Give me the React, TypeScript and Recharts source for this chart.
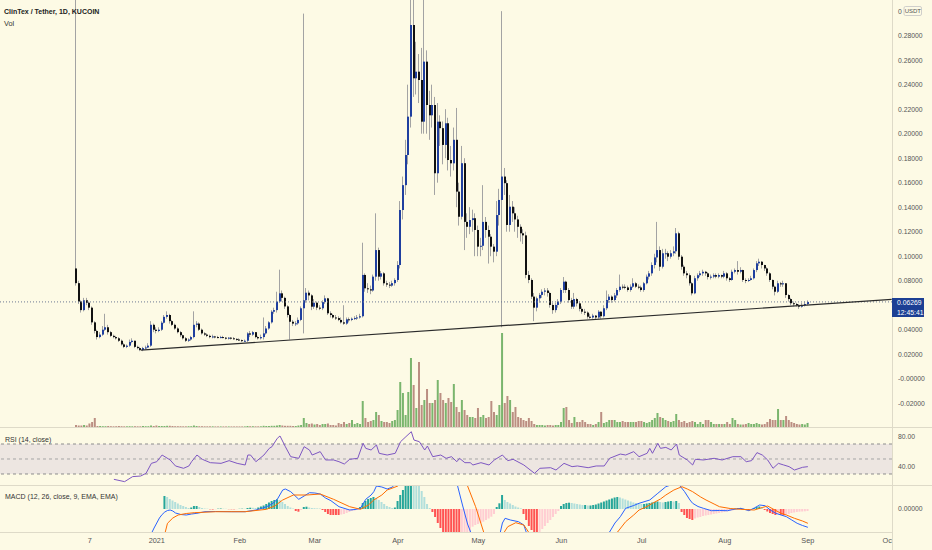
import React from 'react';
import { Bar, Cell, ComposedChart, Line, ReferenceArea, ReferenceLine, XAxis, YAxis } from 'recharts';

// days are counted from 1 Jan 2021, first candle is 2 Dec 2020
const FIRST_DAY = -30;
const FIRST_OPEN = 0.09;
const LAST_PRICE = 0.06269;

const CLOSE = [
  0.078, 0.063, 0.056, 0.064, 0.062, 0.058, 0.046, 0.039, 0.034, 0.036,
  0.04, 0.042, 0.038, 0.035, 0.034, 0.033, 0.031, 0.028, 0.026, 0.027,
  0.03, 0.031, 0.026, 0.025, 0.0235, 0.025, 0.0255, 0.027, 0.044, 0.04,
  0.039, 0.04, 0.0457, 0.0505, 0.052, 0.047, 0.044, 0.041, 0.038, 0.0355,
  0.033, 0.031, 0.032, 0.034, 0.044, 0.045, 0.04, 0.037, 0.036, 0.035,
  0.034, 0.0345, 0.034, 0.0335, 0.034, 0.0335, 0.033, 0.0335, 0.033, 0.0325,
  0.032, 0.0315, 0.031, 0.031, 0.037, 0.036, 0.038, 0.034, 0.033, 0.034,
  0.037, 0.041, 0.046, 0.0547, 0.056, 0.063, 0.0697, 0.066, 0.059, 0.052,
  0.0465, 0.045, 0.0452, 0.048, 0.0575, 0.064, 0.0702, 0.068, 0.0588, 0.062,
  0.058, 0.0575, 0.0625, 0.0656, 0.0534, 0.052, 0.05, 0.0495, 0.048, 0.046,
  0.045, 0.0485, 0.048, 0.049, 0.0495, 0.05, 0.051, 0.0847, 0.0738, 0.073,
  0.072, 0.0833, 0.105, 0.0833, 0.086, 0.0779, 0.0768, 0.076, 0.078, 0.0806,
  0.0928, 0.1377, 0.158, 0.1826, 0.2139, 0.2887, 0.2452, 0.2506, 0.2438, 0.2098,
  0.2588, 0.2234, 0.215, 0.2234, 0.1677, 0.2098, 0.2045, 0.1908, 0.2085, 0.1785,
  0.1758, 0.195, 0.1527, 0.1322, 0.1759, 0.128, 0.124, 0.1295, 0.131, 0.1214,
  0.1078, 0.1085, 0.128, 0.1214, 0.1159, 0.1078, 0.1037, 0.1336, 0.1459, 0.165,
  0.1596, 0.1255, 0.1404, 0.135, 0.13, 0.124, 0.1187, 0.117, 0.0847, 0.0806,
  0.067, 0.058, 0.0656, 0.0684, 0.071, 0.072, 0.07, 0.0602, 0.056, 0.0602,
  0.0629, 0.0724, 0.0792, 0.0724, 0.0642, 0.0588, 0.065, 0.0615, 0.057, 0.0547,
  0.054, 0.0506, 0.05, 0.0515, 0.05, 0.0547, 0.051, 0.0575, 0.0642, 0.067,
  0.0642, 0.068, 0.0724, 0.0751, 0.075, 0.0745, 0.0724, 0.0751, 0.0779, 0.0751,
  0.0745, 0.0724, 0.0779, 0.0833, 0.086, 0.0928, 0.099, 0.105, 0.0914, 0.1024,
  0.1024, 0.0996, 0.1024, 0.104, 0.1187, 0.0996, 0.0914, 0.086, 0.0845, 0.0779,
  0.0697, 0.082, 0.0845, 0.086, 0.0873, 0.086, 0.083, 0.0833, 0.0846, 0.0833,
  0.0846, 0.0833, 0.086, 0.082, 0.0806, 0.0873, 0.0887, 0.0873, 0.0887, 0.0806,
  0.08, 0.0806, 0.082, 0.0887, 0.0942, 0.0955, 0.0928, 0.09, 0.086, 0.0806,
  0.0751, 0.071, 0.0779, 0.077, 0.0779, 0.0683, 0.065, 0.0616, 0.061, 0.0602,
  0.0588, 0.06, 0.061, 0.06269,
];

const HIGH = [
  0.36, 0.08, 0.064, 0.066, 0.066, 0.063, 0.059, 0.047, 0.04, 0.038,
  0.043, 0.053, 0.044, 0.039, 0.036, 0.035, 0.034, 0.032, 0.029, 0.028,
  0.032, 0.033, 0.031, 0.027, 0.026, 0.026, 0.027, 0.029, 0.047, 0.045,
  0.042, 0.042, 0.047, 0.052, 0.055, 0.053, 0.048, 0.045, 0.042, 0.039,
  0.036, 0.034, 0.033, 0.035, 0.055, 0.047, 0.046, 0.041, 0.038, 0.037,
  0.036, 0.036, 0.035, 0.035, 0.035, 0.035, 0.034, 0.034, 0.034, 0.034,
  0.033, 0.033, 0.032, 0.032, 0.038, 0.039, 0.039, 0.038, 0.035, 0.036,
  0.05, 0.043, 0.047, 0.056, 0.058, 0.071, 0.089, 0.072, 0.067, 0.06,
  0.053, 0.048, 0.047, 0.05, 0.059, 0.298, 0.074, 0.072, 0.069, 0.065,
  0.063, 0.06, 0.064, 0.068, 0.066, 0.055, 0.053, 0.052, 0.051, 0.05,
  0.06, 0.05, 0.05, 0.05, 0.051, 0.052, 0.053, 0.111, 0.086, 0.078,
  0.076, 0.085, 0.135, 0.107, 0.088, 0.087, 0.08, 0.079, 0.08, 0.082,
  0.096, 0.145, 0.165, 0.195, 0.24, 0.34, 0.32, 0.275, 0.265, 0.27,
  0.33, 0.268, 0.235, 0.24, 0.23, 0.225, 0.215, 0.21, 0.22, 0.213,
  0.19, 0.205, 0.221, 0.16, 0.19, 0.18, 0.135, 0.14, 0.138, 0.135,
  0.125, 0.115, 0.158, 0.132, 0.125, 0.118, 0.11, 0.145, 0.155, 0.3,
  0.172, 0.162, 0.15, 0.145, 0.14, 0.133, 0.126, 0.122, 0.12, 0.088,
  0.082, 0.07, 0.067, 0.07, 0.073, 0.074, 0.074, 0.071, 0.062, 0.062,
  0.065, 0.074, 0.083, 0.08, 0.074, 0.066, 0.07, 0.066, 0.063, 0.059,
  0.057, 0.055, 0.053, 0.053, 0.052, 0.056, 0.055, 0.06, 0.072, 0.069,
  0.068, 0.07, 0.074, 0.085, 0.077, 0.077, 0.076, 0.077, 0.082, 0.079,
  0.077, 0.076, 0.079, 0.085, 0.088, 0.095, 0.102, 0.128, 0.108, 0.106,
  0.106, 0.104, 0.105, 0.108, 0.123, 0.12, 0.101, 0.093, 0.088, 0.086,
  0.079, 0.084, 0.086, 0.088, 0.089, 0.088, 0.087, 0.085, 0.086, 0.086,
  0.086, 0.085, 0.088, 0.087, 0.083, 0.089, 0.09, 0.096, 0.091, 0.089,
  0.082, 0.082, 0.084, 0.09, 0.096, 0.098, 0.096, 0.093, 0.091, 0.087,
  0.081, 0.076, 0.08, 0.079, 0.08, 0.078, 0.069, 0.066, 0.063, 0.062,
  0.061, 0.062, 0.063, 0.064,
];

const LOW = [
  0.076, 0.061, 0.054, 0.055, 0.06, 0.056, 0.044, 0.037, 0.032, 0.033,
  0.035, 0.039, 0.036, 0.034, 0.033, 0.032, 0.03, 0.027, 0.025, 0.025,
  0.026, 0.029, 0.025, 0.024, 0.0225, 0.0225, 0.024, 0.025, 0.026, 0.038,
  0.037, 0.038, 0.039, 0.045, 0.049, 0.045, 0.043, 0.04, 0.037, 0.034,
  0.032, 0.03, 0.03, 0.031, 0.033, 0.042, 0.039, 0.036, 0.035, 0.034,
  0.033, 0.033, 0.033, 0.033, 0.033, 0.033, 0.032, 0.032, 0.032, 0.032,
  0.031, 0.031, 0.03, 0.03, 0.03, 0.034, 0.035, 0.033, 0.032, 0.032,
  0.032, 0.036, 0.04, 0.045, 0.053, 0.054, 0.062, 0.063, 0.057, 0.05,
  0.032, 0.043, 0.043, 0.044, 0.047, 0.037, 0.062, 0.064, 0.056, 0.057,
  0.056, 0.056, 0.056, 0.061, 0.052, 0.05, 0.049, 0.048, 0.047, 0.045,
  0.044, 0.044, 0.046, 0.047, 0.048, 0.048, 0.049, 0.05, 0.071, 0.07,
  0.069, 0.071, 0.08, 0.08, 0.081, 0.076, 0.075, 0.074, 0.075, 0.076,
  0.079, 0.09, 0.13, 0.15, 0.175, 0.205, 0.23, 0.232, 0.225, 0.2,
  0.2, 0.2, 0.195, 0.205, 0.15, 0.16, 0.19, 0.175, 0.18, 0.17,
  0.165, 0.17, 0.14, 0.125, 0.13, 0.105, 0.115, 0.118, 0.12, 0.1,
  0.1, 0.1, 0.105, 0.115, 0.094, 0.1, 0.095, 0.1, 0.125, 0.042,
  0.15, 0.12, 0.12, 0.128, 0.12, 0.115, 0.112, 0.11, 0.082, 0.078,
  0.065, 0.047, 0.055, 0.062, 0.066, 0.068, 0.067, 0.058, 0.053, 0.054,
  0.058, 0.061, 0.07, 0.07, 0.062, 0.057, 0.057, 0.059, 0.055, 0.053,
  0.052, 0.049, 0.049, 0.049, 0.048, 0.049, 0.049, 0.05, 0.056, 0.062,
  0.062, 0.063, 0.066, 0.071, 0.073, 0.073, 0.071, 0.071, 0.074, 0.074,
  0.073, 0.071, 0.071, 0.077, 0.081, 0.084, 0.09, 0.095, 0.088, 0.09,
  0.098, 0.096, 0.098, 0.1, 0.102, 0.097, 0.089, 0.084, 0.082, 0.076,
  0.068, 0.069, 0.08, 0.083, 0.084, 0.084, 0.081, 0.081, 0.082, 0.082,
  0.082, 0.082, 0.082, 0.08, 0.079, 0.08, 0.086, 0.085, 0.086, 0.079,
  0.078, 0.079, 0.08, 0.081, 0.087, 0.092, 0.09, 0.088, 0.084, 0.079,
  0.073, 0.068, 0.07, 0.075, 0.075, 0.066, 0.063, 0.06, 0.059, 0.059,
  0.057, 0.058, 0.059, 0.06,
];

// volume, in units of 10k CLT
const VOLUME = [
  2, 1.5, 1.5, 2, 1.5, 3.5, 5, 9, 1, 1,
  0.8, 0.8, 1, 0.8, 0.7, 0.8, 1, 0.8, 0.7, 0.7,
  0.8, 0.7, 0.8, 0.7, 0.7, 1, 0.8, 0.8, 1.5, 1,
  1.5, 1, 1, 1, 1.2, 1.2, 1, 0.8, 0.8, 0.8,
  0.7, 0.7, 0.8, 0.8, 1.5, 1, 0.8, 0.8, 0.7, 0.7,
  0.7, 0.7, 0.6, 0.6, 0.6, 0.6, 0.6, 0.6, 0.6, 0.6,
  0.6, 0.6, 0.6, 0.6, 1, 0.8, 0.8, 0.7, 0.7, 0.7,
  1.2, 1, 1, 1.2, 1.2, 1.5, 2, 1.5, 1.2, 1.2,
  1.2, 1, 1, 1.5, 2, 9, 4, 3, 3.5, 2.5,
  3, 2, 3, 3, 3.5, 2, 2, 1.5, 4, 3,
  5, 3, 4, 7, 3, 4, 3, 26, 9, 5,
  6, 7, 15, 12, 6, 5, 5, 4, 6, 7,
  17, 45, 34, 12, 35, 69, 42, 19, 65, 22,
  27, 38, 24, 24, 27, 47, 34, 27, 24, 29,
  25, 43, 20, 15, 27, 17, 12, 10, 10, 9,
  19, 10, 12, 9, 10, 26, 15, 12, 22, 94,
  24, 31, 27, 15, 20, 10, 9, 7, 6, 9,
  6, 3, 2, 2, 2, 1.5, 2, 2, 1.5, 2,
  2, 5, 19, 20, 7, 4, 10, 5, 5, 7,
  5, 3, 3, 2, 3, 5, 15, 4, 5, 7,
  7, 7, 5, 5, 6, 5, 5, 5, 5, 5,
  6, 6, 5, 4, 5, 7, 9, 14, 10, 9,
  7, 6, 5, 6, 13, 7, 5, 6, 4, 5,
  6, 5, 3, 5, 3, 7, 7, 5, 3, 3,
  3, 3, 3, 5, 3, 9, 7, 3, 2.5, 2.5,
  3, 4, 3, 3, 4, 3, 2.5, 3, 5, 8,
  7, 7, 18, 7, 7, 11, 7, 5, 4, 3,
  2.5, 3, 2.5, 4,
];

// MACD histogram, one value per day from day 3 (in 1e-4 USDT)
const HIST_FIRST_DAY = 3;
const MACD_HIST = [
  13, 12, 10, 8.5, 7, 5.5, 4, 3, 2, 1,
  1.5, 3, 3, 2, 1, 0.5, 0.3, -0.3, -0.5, -0.3,
  0.3, 0.5, 0.3, 0.2, -0.2, -0.3, -0.3, -0.2, 0.2, 0.3,
  0.2, 1, 1.3, 1.2, 1, 1.5, 2.5, 3.5, 5, 6.5,
  8, 9, 9.7, 9, 7, 5, 3, 1.5, 0.5, -2,
  -2.7, -1, 2, 2.3, 1.5, 1, 0.8, 0.6, 0.5, -1,
  -3, -5, -6, -6, -6, -6, -5.5, -5, -4, -3,
  -2, -1.5, -0.5, 2, 6, 8, 10, 11, 12, 11,
  9, 7, 5, 3, 2, 1, 1.5, 8, 14, 19,
  23, 26, 30, 29, 28, 26, 18, 12, 5, 1,
  -3, -8, -14, -19, -24, -28, -30, -32, -33, -34,
  -34, -32, -30, -28, -26, -17.7, -16, -15, -14, -12.7,
  -11, -9.5, -7.7, -5, 2, 5.7, 14, 9, 7, 5.5,
  4, 2.5, 1.5, 0.7, -5, -11, -17, -21, -24, -26,
  -24, -20, -17, -14, -11, -8, -5, -2, 3, 5,
  6, 6.3, 6, 5.5, 5, 4.5, 4, 4, 3.5, 3.5,
  4, 4.5, 5.5, 6.5, 7.5, 8.5, 9.5, 10.5, 11.5, 12,
  11.5, 10.5, 9.5, 8.5, 7.5, 6.5, 6, 5.5, 5, 5,
  5.5, 6, 6.5, 7, 7.5, 7, 6.5, 7, 7.5, 8,
  7.5, 8, 6, -3, -6, -9, -10, -11, -9.5, -8.5,
  -8, -7, -6.5, -6, -5.5, -5, -4.5, -4, -3.5, -3,
  -2.5, -2, -1.5, 0.5, 1, 1, 0.5, -0.5, -1, -0.5,
  1, 2, 2.5, 1.5, -1, -2.5, -4, -5, -6, -5,
  -6, -6.5, -6, -5, -4, -3.5, -3, -2.7, -2.5, -2.3,
  -2,
];

// [day, value]
const MACD_LINE: [number, number][] = [
  [-5, -45], [-3, -30], [-1, -19], [0, -14], [1, -9], [2, -5.5], [3, -3], [4, -1.5], [5, -1], [6, -2],
  [7, -4], [9, -5.5], [11, -6], [13, -5], [15, -4.3], [18, -2.7], [22, -2.5], [28, -2.7], [33, -2.7], [37, -1],
  [39, 0.5], [41, 2.3], [43, 5], [45, 9.7], [47, 19], [48, 20], [50, 17.3], [53, 9.7], [55, 13], [57, 16.3],
  [59, 16], [61, 15], [63, 11], [65, 8.3], [68, 2.3], [72, -1], [74, -0.5], [76, 0.7], [78, 9.7], [80, 14],
  [81, 17.3], [82, 23], [84, 22], [86, 20], [88, 22], [90, 30], [95, 60], [100, 70], [105, 60], [110, 40],
  [112, 26], [114, 5], [116, -15], [117, -22], [118, -30], [122, -45], [126, -40], [128, -26], [129, -14], [130, -9.3],
  [132, -11], [135, -12.7], [137, -16], [138, -24], [142, -40], [150, -40], [160, -35], [166, -30], [169, -23], [171, -14],
  [173, -7.7], [175, 0.7], [178, 3.5], [180, 5.7], [184, 9], [187, 15.7], [190, 22.3], [193, 25], [195, 24], [197, 17.3],
  [199, 9], [200, 5.7], [202, 2.5], [204, 0.7], [207, -1.7], [210, -1.5], [213, -1.7], [215, -0.5], [218, 0.7], [221, -1.7],
  [223, 1], [225, 4], [227, 3.3], [229, -1], [231, -4.3], [233, -6], [235, -7.7], [237, -11], [239, -14.3], [241, -16.5],
  [243, -18.3],
];

const SIGNAL_LINE: [number, number][] = [
  [3, -25], [4, -14.3], [6, -9], [8, -6], [11, -4.5], [14, -3.7], [22, -2.7], [33, -2.7], [41, -0.3], [44, 3],
  [47, 9], [51, 14], [56, 14], [61, 15], [66, 9.7], [72, 2.3], [76, -0.3], [79, 4], [81, 9], [84, 14],
  [86, 19], [90, 23], [95, 35], [100, 50], [105, 55], [110, 52], [114, 40], [116, 23], [119, 2.3], [122, -23],
  [126, -33], [129, -26], [131, -17.7], [134, -13.7], [137, -16], [139, -24], [145, -35], [155, -40], [165, -35], [170, -28],
  [172, -23], [175, -12.7], [178, -6], [180, -1], [183, 2.5], [185, 5.7], [188, 10], [190, 14], [193, 19], [196, 22.3],
  [198, 20], [200, 17.3], [203, 12], [205, 9], [208, 5], [210, 2.3], [214, 0.5], [218, -0.3], [223, -1], [226, 1.5],
  [228, 3], [230, 0], [233, -4.3], [235, -6], [238, -9.3], [241, -12], [243, -14.3],
];

const RSI: [number, number][] = [
  [-16, 22.9], [-12, 19.8], [-9, 26.5], [-6, 27.3], [-4, 30.9], [-2, 44.2], [0, 46.4], [2, 55.3], [5, 48.7], [7, 40.7],
  [10, 37.6], [12, 40.7], [13, 46.4], [15, 55.3], [17, 49.6], [20, 45.1], [24, 44.2], [27, 47.8], [30, 44.2], [33, 42],
  [34, 55.3], [35, 55.3], [37, 46.4], [40, 55.3], [42, 64.2], [43, 66.4], [45, 77.6], [46, 80.7], [48, 66.4], [50, 53.1],
  [53, 50.9], [55, 66.4], [57, 62], [58, 55.3], [61, 59.8], [63, 48.7], [66, 48.7], [68, 46.4], [70, 43.3], [72, 49.6],
  [75, 50.9], [77, 70.9], [78, 64.2], [80, 62], [82, 68.7], [83, 57.6], [86, 55.3], [89, 57.6], [91, 73.1], [93, 79.8],
  [95, 86.4], [96, 75.3], [98, 73.1], [100, 62], [101, 67.3], [103, 53.1], [106, 55.3], [108, 50.9], [110, 53.1], [112, 46.4],
  [113, 50.9], [115, 45.1], [117, 45.1], [118, 42], [121, 45.1], [124, 42], [126, 48.7], [129, 55.3], [131, 47.8], [133, 49.6],
  [137, 42], [141, 30.9], [143, 37.6], [147, 38.4], [149, 35.3], [152, 44.2], [155, 39.8], [157, 40.7], [161, 38.4], [164, 40.7],
  [167, 40.7], [169, 50.9], [173, 56.6], [175, 55.3], [178, 59.8], [180, 53.1], [183, 57.6], [184, 64.2], [185, 57.6], [187, 70.9],
  [188, 64.2], [190, 65.5], [192, 62], [194, 70], [195, 55.3], [198, 48.7], [200, 42], [201, 49.6], [204, 48.7], [208, 50.9],
  [211, 48.7], [215, 53.1], [218, 53.1], [220, 46.4], [222, 47.8], [224, 58.5], [226, 55.3], [228, 48.7], [230, 37.6], [232, 44.2],
  [234, 42], [236, 39.8], [238, 35.3], [241, 38.9], [243, 39.8],
];

// hand drawn support line
const TREND = [{ x: -6, y: 0.0233 }, { x: 274.3, y: 0.0648 }];

const MONTH_TICKS = [-25, 0, 31, 59, 90, 120, 151, 181, 212, 243, 273];
const MONTH_LABELS = ['7', '2021', 'Feb', 'Mar', 'Apr', 'May', 'Jun', 'Jul', 'Aug', 'Sep', 'Oct'];
// 0.06 sits under the last price label, so it is not listed
const PRICE_TICKS = [-0.02, 0, 0.02, 0.04, 0.08, 0.1, 0.12, 0.14, 0.16, 0.18, 0.2, 0.22, 0.24, 0.26, 0.28, 0.3];
const RSI_TICKS = [40, 80];

const X_DOMAIN: [number, number] = [-58.5, 274.4];
const BG = '#fdfae5';
const FONT = '"Liberation Sans", Arial, sans-serif';
const SEP = '#dedac8';

const candles = CLOSE.map((close, i) => {
  const open = i === 0 ? FIRST_OPEN : CLOSE[i - 1];
  const high = Math.max(HIGH[i], open, close);
  const low = Math.min(LOW[i], open, close);
  return { d: FIRST_DAY + i, open, close, high, low, range: [low, high], vol: VOLUME[i] };
});

const macdMap = new Map(MACD_LINE);
const signalMap = new Map(SIGNAL_LINE);
const macdRows = candles.map(({ d }) => {
  const h = d >= HIST_FIRST_DAY ? MACD_HIST[d - HIST_FIRST_DAY] : undefined;
  const prev = d - 1 >= HIST_FIRST_DAY ? MACD_HIST[d - 1 - HIST_FIRST_DAY] : h;
  return { d, hist: h, prev, macd: macdMap.get(d), signal: signalMap.get(d) };
});

const rsiRows = RSI.map(([d, rsi]) => ({ d, rsi }));

function histColor(h: number, prev: number) {
  if (h >= 0) return h >= prev ? '#26a69a' : '#b2dfdb';
  return h <= prev ? '#ff5252' : '#ffcdd2';
}

// the top label is mostly hidden by the currency badge, only its first digit shows
function priceLabel(v: number) {
  if (Math.abs(v) < 1e-9) return '-0.00000';
  if (v > 0.29) return '0';
  return v.toFixed(5);
}

function Candle(props: any) {
  const { x, y, width, height, payload } = props;
  if (!payload || !Number.isFinite(y) || !Number.isFinite(height)) return null;
  const { open, close, high, low } = payload;
  const k = height / (high - low);
  const at = (v: number) => y + (high - v) * k;
  const cx = Math.round(x + width / 2);
  const top = at(Math.max(open, close));
  const bottom = at(Math.min(open, close));
  const up = close >= open;
  return (
    <g>
      <rect x={cx - 1} y={y} width={1} height={Math.max(height, 1)} fill="#a3a3a3" />
      <rect x={cx - 1} y={top} width={2} height={Math.max(bottom - top, 1)} fill={up ? '#1f3f9f' : '#111111'} />
    </g>
  );
}

const tickStyle = { fontSize: 6.8, fill: '#555555', fontFamily: FONT };

export default function App() {
  return (
    <div style={{ position: 'absolute', left: 0, top: 0, width: 932, height: 550, background: BG, overflow: 'hidden', fontFamily: FONT }}>
      <div style={{ position: 'absolute', left: 0, top: 0 }}>
        <ComposedChart width={932} height={427} data={candles} margin={{ top: 0, right: 0, bottom: 0, left: 0 }}>
          <XAxis xAxisId="c" dataKey="d" type="number" domain={X_DOMAIN} allowDataOverflow hide />
          <XAxis xAxisId="v" dataKey="d" type="number" domain={X_DOMAIN} allowDataOverflow hide />
          <YAxis
            yAxisId="price"
            orientation="right"
            width={40}
            domain={[-0.0394, 0.3091]}
            ticks={PRICE_TICKS}
            allowDataOverflow
            axisLine={false}
            tickLine={false}
            tickSize={6}
            tickMargin={0}
            interval={0}
            tick={tickStyle}
            tickFormatter={priceLabel}
          />
          <YAxis yAxisId="vol" domain={[0, 427]} allowDataOverflow hide />
          <Bar xAxisId="v" yAxisId="vol" dataKey="vol" barSize={2} isAnimationActive={false}>
            {candles.map((c) => (
              <Cell key={c.d} fill={c.close >= c.open ? '#7ab56d' : '#bb8e82'} />
            ))}
          </Bar>
          <ReferenceLine xAxisId="c" yAxisId="price" y={LAST_PRICE} stroke="#6c7894" strokeDasharray="1 2" />
          <ReferenceLine xAxisId="c" yAxisId="price" segment={TREND} stroke="#2b2b2b" strokeWidth={1.2} ifOverflow="visible" />
          <Bar xAxisId="c" yAxisId="price" dataKey="range" barSize={2} shape={Candle} isAnimationActive={false} />
        </ComposedChart>
      </div>

      <div style={{ position: 'absolute', left: 0, top: 427 }}>
        <ComposedChart width={932} height={58} data={rsiRows} margin={{ top: 0, right: 0, bottom: 0, left: 0 }}>
          <XAxis dataKey="d" type="number" domain={X_DOMAIN} allowDataOverflow hide />
          <YAxis
            orientation="right"
            width={40}
            domain={[15.33, 92.67]}
            ticks={RSI_TICKS}
            allowDataOverflow
            axisLine={false}
            tickLine={false}
            tickSize={6}
            tickMargin={0}
            tick={tickStyle}
            tickFormatter={(v: number) => v.toFixed(2)}
          />
          <ReferenceArea y1={30} y2={70} fill="#ede6e1" fillOpacity={1} stroke="none" />
          <ReferenceLine y={70} stroke="#8d8d8d" strokeDasharray="3 3" />
          <ReferenceLine y={50} stroke="#a5a5a5" strokeDasharray="3 3" />
          <ReferenceLine y={30} stroke="#8d8d8d" strokeDasharray="3 3" />
          <Line dataKey="rsi" stroke="#7e57c2" strokeWidth={1} dot={false} isAnimationActive={false} />
        </ComposedChart>
      </div>

      <div style={{ position: 'absolute', left: 0, top: 485 }}>
        <ComposedChart width={932} height={65} data={macdRows} margin={{ top: 0, right: 0, bottom: 0, left: 0 }}>
          <XAxis
            dataKey="d"
            type="number"
            domain={X_DOMAIN}
            allowDataOverflow
            ticks={MONTH_TICKS}
            interval={0}
            height={18}
            axisLine={false}
            tickLine={false}
            tickSize={6}
            tickMargin={0}
            tick={{ fontSize: 7.3, fill: '#555555', fontFamily: FONT }}
            tickFormatter={(v: number) => MONTH_LABELS[MONTH_TICKS.indexOf(v)] ?? ''}
          />
          <YAxis
            orientation="right"
            width={40}
            domain={[-23, 24]}
            ticks={[0]}
            allowDataOverflow
            axisLine={false}
            tickLine={false}
            tickSize={6}
            tickMargin={0}
            tick={tickStyle}
            tickFormatter={() => '0.00000'}
          />
          <Bar dataKey="hist" barSize={2} isAnimationActive={false}>
            {macdRows.map((r) => (
              <Cell key={r.d} fill={r.hist == null ? 'none' : histColor(r.hist, r.prev ?? r.hist)} />
            ))}
          </Bar>
          <Line dataKey="macd" stroke="#2962ff" strokeWidth={1} dot={false} connectNulls isAnimationActive={false} />
          <Line dataKey="signal" stroke="#ff6d00" strokeWidth={1} dot={false} connectNulls isAnimationActive={false} />
        </ComposedChart>
      </div>

      <svg width={932} height={550} style={{ position: 'absolute', left: 0, top: 0, pointerEvents: 'none' }}>
        <rect x={892} y={532} width={40} height={18} fill={BG} />
        <line x1={0} x2={932} y1={427.5} y2={427.5} stroke={SEP} />
        <line x1={0} x2={932} y1={485.5} y2={485.5} stroke={SEP} />
        <line x1={0} x2={892} y1={532.5} y2={532.5} stroke={SEP} />
        <line x1={892.5} x2={892.5} y1={0} y2={550} stroke={SEP} />
        <text x={4} y={11} fontSize={7} fontWeight="bold" fill="#222" dominantBaseline="central" fontFamily={FONT}>
          ClinTex / Tether, 1D, KUCOIN
        </text>
        <text x={4} y={23.5} fontSize={7.3} fill="#333" dominantBaseline="central" fontFamily={FONT}>
          Vol
        </text>
        <text x={5} y={439} fontSize={7} fill="#333" dominantBaseline="central" fontFamily={FONT}>
          RSI (14, close)
        </text>
        <text x={5} y={496.7} fontSize={7} fill="#333" dominantBaseline="central" fontFamily={FONT}>
          MACD (12, 26, close, 9, EMA, EMA)
        </text>
        <rect x={904} y={6.5} width={17.5} height={9} rx={1.5} fill={BG} stroke="#c4c4c4" strokeWidth={0.8} />
        <text x={912.8} y={11} fontSize={6} fill="#555" textAnchor="middle" dominantBaseline="central" fontFamily={FONT}>
          USDT
        </text>
        <rect x={892} y={298} width={32} height={19} fill="#1c3f94" />
        <text x={897} y={302.5} fontSize={6.8} fill="#ffffff" dominantBaseline="central" fontFamily={FONT}>
          0.06269
        </text>
        <text x={897} y={312.3} fontSize={6.8} fill="#ffffff" dominantBaseline="central" fontFamily={FONT}>
          12:45:41
        </text>
      </svg>
    </div>
  );
}
